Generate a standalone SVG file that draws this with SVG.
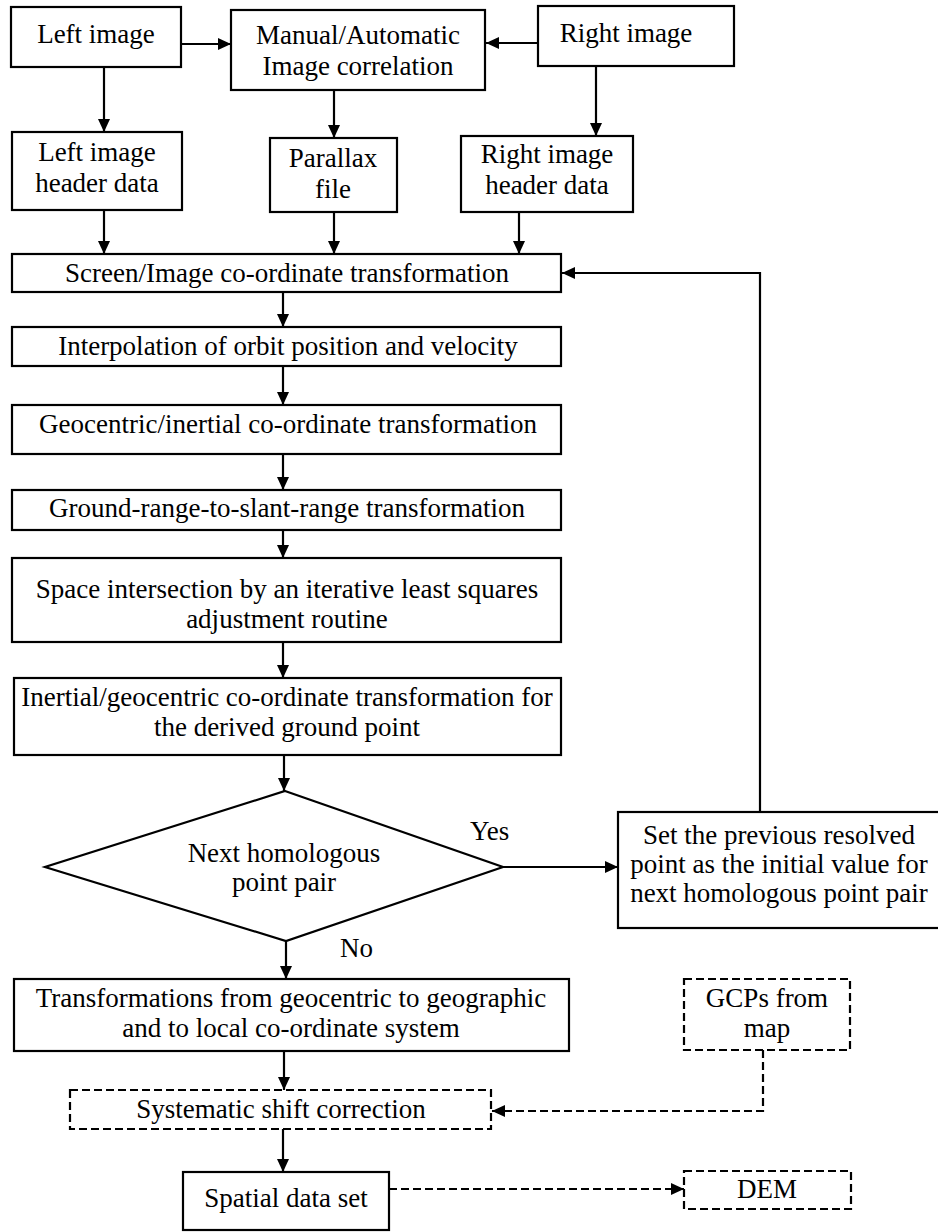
<svg xmlns="http://www.w3.org/2000/svg" width="938" height="1232" viewBox="0 0 938 1232">
<style>
.b{fill:#fff;stroke:#000;stroke-width:2.2}
.d{fill:#fff;stroke:#000;stroke-width:2.2;stroke-dasharray:8 4}
.t{font-family:"Liberation Serif","Times New Roman",serif;font-size:27px;fill:#000;text-anchor:middle}
.s{font-family:"Liberation Serif","Times New Roman",serif;font-size:27px;fill:#000}
.c{fill:none;stroke:#000;stroke-width:2.2}
.cd{fill:none;stroke:#000;stroke-width:2.2;stroke-dasharray:8 4}
</style>
<defs>
<marker id="ah" viewBox="0 0 13 12" refX="13" refY="6" markerWidth="13" markerHeight="12" markerUnits="userSpaceOnUse" orient="auto">
<path d="M0,0 L13,6 L0,12 z" fill="#000"/>
</marker>
</defs>
<rect width="938" height="1232" fill="#fff"/>
<g id="connectors">
<line class="c" x1="181" y1="44" x2="231" y2="44" marker-end="url(#ah)"/>
<line class="c" x1="538" y1="43" x2="486" y2="43" marker-end="url(#ah)"/>
<line class="c" x1="104" y1="67" x2="104" y2="132" marker-end="url(#ah)"/>
<line class="c" x1="334" y1="90" x2="334" y2="138" marker-end="url(#ah)"/>
<line class="c" x1="596" y1="66" x2="596" y2="136" marker-end="url(#ah)"/>
<line class="c" x1="104" y1="210" x2="104" y2="254" marker-end="url(#ah)"/>
<line class="c" x1="334" y1="212" x2="334" y2="254" marker-end="url(#ah)"/>
<line class="c" x1="519" y1="212" x2="519" y2="254" marker-end="url(#ah)"/>
<line class="c" x1="283" y1="292" x2="283" y2="327" marker-end="url(#ah)"/>
<line class="c" x1="283" y1="366" x2="283" y2="405" marker-end="url(#ah)"/>
<line class="c" x1="283" y1="454" x2="283" y2="490" marker-end="url(#ah)"/>
<line class="c" x1="283" y1="530" x2="283" y2="558" marker-end="url(#ah)"/>
<line class="c" x1="283" y1="642" x2="283" y2="678" marker-end="url(#ah)"/>
<line class="c" x1="284" y1="755" x2="284" y2="791" marker-end="url(#ah)"/>
<line class="c" x1="503" y1="867" x2="618" y2="867" marker-end="url(#ah)"/>
<polyline class="c" points="760,812 760,273 562,273" marker-end="url(#ah)"/>
<line class="c" x1="286" y1="941" x2="286" y2="979" marker-end="url(#ah)"/>
<line class="c" x1="284" y1="1051" x2="284" y2="1090" marker-end="url(#ah)"/>
<line class="c" x1="283" y1="1129" x2="283" y2="1172" marker-end="url(#ah)"/>
<polyline class="cd" points="763,1050 763,1111 492,1111" marker-end="url(#ah)"/>
<line class="cd" x1="389" y1="1189" x2="684" y2="1189" marker-end="url(#ah)"/>
<text class="s" x="470" y="840">Yes</text>
<text class="s" x="340" y="957">No</text>
</g>
<g id="left-image">
<rect class="b" x="11" y="7" width="170" height="60"/>
<text class="t" x="96" y="43">Left image</text>
</g>
<g id="correlation">
<rect class="b" x="231" y="10" width="254" height="80"/>
<text class="t" x="358" y="44">Manual/Automatic</text>
<text class="t" x="358" y="75">Image correlation</text>
</g>
<g id="right-image">
<rect class="b" x="538" y="6" width="196" height="60"/>
<text class="t" x="626" y="42">Right image</text>
</g>
<g id="left-header">
<rect class="b" x="12" y="132" width="170" height="78"/>
<text class="t" x="97" y="161">Left image</text>
<text class="t" x="97" y="192">header data</text>
</g>
<g id="parallax">
<rect class="b" x="270" y="138" width="127" height="74"/>
<text class="t" x="333" y="167">Parallax</text>
<text class="t" x="333" y="198">file</text>
</g>
<g id="right-header">
<rect class="b" x="461" y="136" width="172" height="76"/>
<text class="t" x="547" y="163">Right image</text>
<text class="t" x="547" y="194">header data</text>
</g>
<g id="screen">
<rect class="b" x="12" y="254" width="549" height="38"/>
<text class="t" x="287" y="282">Screen/Image co-ordinate transformation</text>
</g>
<g id="interpolation">
<rect class="b" x="12" y="327" width="549" height="39"/>
<text class="t" x="288" y="355">Interpolation of orbit position and velocity</text>
</g>
<g id="geocentric">
<rect class="b" x="12" y="405" width="549" height="49"/>
<text class="t" x="288" y="433">Geocentric/inertial co-ordinate transformation</text>
</g>
<g id="ground-range">
<rect class="b" x="12" y="490" width="549" height="40"/>
<text class="t" x="287" y="517">Ground-range-to-slant-range transformation</text>
</g>
<g id="space-intersection">
<rect class="b" x="12" y="558" width="549" height="84"/>
<text class="t" x="287" y="598">Space intersection by an iterative least squares</text>
<text class="t" x="287" y="628">adjustment routine</text>
</g>
<g id="inertial">
<rect class="b" x="14" y="678" width="547" height="77"/>
<text class="t" x="287" y="706">Inertial/geocentric co-ordinate transformation for</text>
<text class="t" x="287" y="736">the derived ground point</text>
</g>
<g id="decision">
<polygon class="b" points="285,791 503,867 286,941 45,867"/>
<text class="t" x="284" y="862">Next homologous</text>
<text class="t" x="284" y="891">point pair</text>
</g>
<g id="set-previous">
<rect class="b" x="618" y="812" width="322" height="116"/>
<text class="t" x="779" y="844">Set the previous resolved</text>
<text class="t" x="779" y="873">point as the initial value for</text>
<text class="t" x="779" y="902">next homologous point pair</text>
</g>
<g id="transformations">
<rect class="b" x="14" y="979" width="555" height="72"/>
<text class="t" x="291" y="1007">Transformations from geocentric to geographic</text>
<text class="t" x="291" y="1037">and to local co-ordinate system</text>
</g>
<g id="gcps">
<rect class="d" x="684" y="979" width="166" height="71"/>
<text class="t" x="767" y="1007">GCPs from</text>
<text class="t" x="767" y="1037">map</text>
</g>
<g id="systematic">
<rect class="d" x="70" y="1090" width="421" height="39"/>
<text class="t" x="281" y="1118">Systematic shift correction</text>
</g>
<g id="spatial">
<rect class="b" x="183" y="1172" width="206" height="58"/>
<text class="t" x="286" y="1207">Spatial data set</text>
</g>
<g id="dem">
<rect class="d" x="684" y="1171" width="167" height="38"/>
<text class="t" x="767" y="1198">DEM</text>
</g>
</svg>
